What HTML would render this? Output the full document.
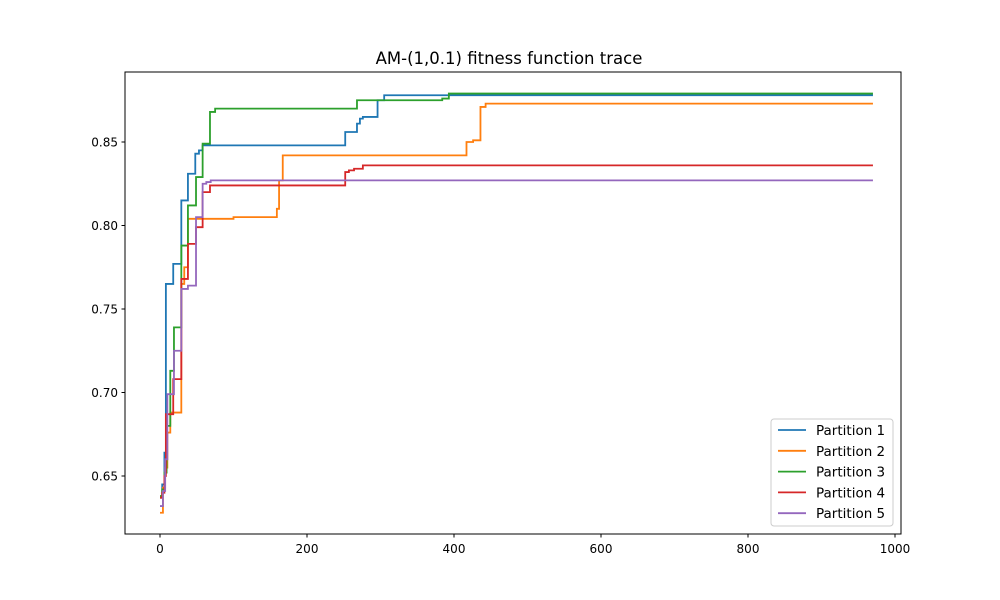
<!DOCTYPE html>
<html><head><meta charset="utf-8"><style>
body{margin:0;background:#fff}
svg{display:block;font-family:"DejaVu Sans","Liberation Sans",sans-serif}
</style></head><body>
<svg id="chart" width="1000" height="600">
<rect width="1000" height="600" fill="#fff"/>
<text x="509" y="64" font-size="16.5" text-anchor="middle">AM-(1,0.1) fitness function trace</text>
<g id="series"></g>
<rect x="125" y="72" width="776" height="462" fill="none" stroke="#000" stroke-width="1"/>
<g id="xticks"></g>
<g id="yticks"></g>
<g id="legend"></g>
</svg>
<script>
const seriesNames=["Partition 1","Partition 2","Partition 3","Partition 4","Partition 5"];
const colors=["#1f77b4","#ff7f0e","#2ca02c","#d62728","#9467bd"];
const p1x=[0,3,6,8,18,29,38,48,53,58,252,268,272,276,296,305,970];
const p1y=[0.637,0.645,0.664,0.765,0.777,0.815,0.831,0.843,0.845,0.848,0.856,0.861,0.864,0.865,0.875,0.878,0.878];
const p2x=[0,4,7,10,14,29,33,38,100,159,162,167,417,426,436,443,970];
const p2y=[0.628,0.643,0.655,0.676,0.688,0.765,0.775,0.804,0.805,0.810,0.827,0.842,0.850,0.851,0.871,0.873,0.873];
const p3x=[0,3,6,9,14,19,29,38,49,58,68,75,268,384,393,970];
const p3y=[0.638,0.642,0.652,0.68,0.713,0.739,0.788,0.812,0.829,0.849,0.868,0.870,0.875,0.876,0.879,0.879];
const p4x=[0,3,6,8,18,29,38,49,58,68,252,257,264,276,970];
const p4y=[0.637,0.640,0.650,0.687,0.708,0.768,0.789,0.799,0.820,0.824,0.832,0.833,0.834,0.836,0.836];
const p5x=[0,4,7,10,19,29,38,49,58,63,69,970];
const p5y=[0.632,0.641,0.660,0.699,0.725,0.762,0.764,0.805,0.825,0.826,0.827,0.827];
const xTicks=[0,200,400,600,800,1000];
const yTicks=[0.65,0.70,0.75,0.80,0.85];
const allX=[p1x,p2x,p3x,p4x,p5x], allY=[p1y,p2y,p3y,p4y,p5y];
const sx=v=>160+v*0.735;
const sy=v=>142-(v-0.85)*1670;
const NS="http://www.w3.org/2000/svg";
const mk=(t,a,p)=>{const e=document.createElementNS(NS,t);for(const k in a)e.setAttribute(k,a[k]);p.appendChild(e);return e;};
const sg=document.getElementById('series');
allX.forEach((xs,i)=>{
  let d="M"+sx(xs[0])+","+sy(allY[i][0]);
  for(let j=1;j<xs.length;j++){d+=" H"+sx(xs[j])+" V"+sy(allY[i][j]);}
  const p=mk('path',{d:d,fill:'none',stroke:colors[i],'stroke-width':1.8},sg);
  
  
});
const xg=document.getElementById('xticks');
xTicks.forEach(v=>{
  const l=mk('line',{x1:sx(v),x2:sx(v),y1:534,y2:537.5,stroke:'#000'},xg);
  
  
  const t=mk('text',{x:sx(v),y:553,'font-size':12,'text-anchor':'middle'},xg);
  t.textContent=v;
  
  
});
const yg=document.getElementById('yticks');
yTicks.forEach(v=>{
  const l=mk('line',{x1:121.5,x2:125,y1:sy(v),y2:sy(v),stroke:'#000'},yg);
  
  
  const t=mk('text',{x:118,y:sy(v)+4.5,'font-size':12,'text-anchor':'end'},yg);
  t.textContent=v.toFixed(2);
  
  
});
const lg=document.getElementById('legend');
const box=mk('rect',{x:771,y:419,width:122,height:107,rx:3,fill:'#fff','fill-opacity':0.8,stroke:'#ccc'},lg);


seriesNames.forEach((n,i)=>{
  const y=430+i*20.8;
  const l=mk('line',{x1:778,x2:806,y1:y,y2:y,stroke:colors[i],'stroke-width':1.8},lg);
  
  
  const t=mk('text',{x:816,y:y+5,'font-size':13.5},lg);
  t.textContent=n;
  
  
});
</script>
</body></html>
